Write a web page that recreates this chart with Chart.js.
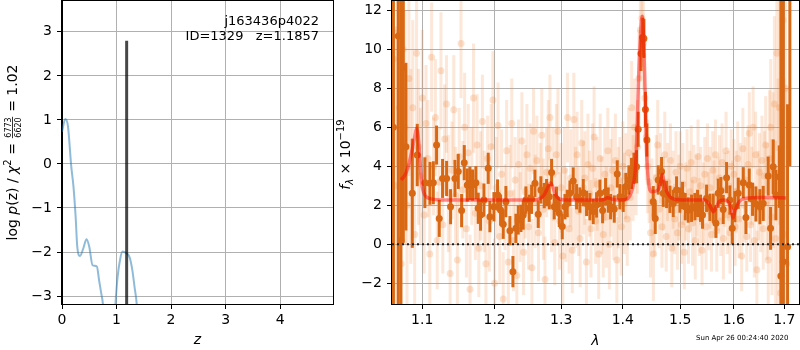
<!DOCTYPE html>
<html lang="en">
<head>
<meta charset="UTF-8">
<title>j163436p4022 - redshift fit</title>
<script src="https://cdn.jsdelivr.net/npm/chart.js@4"></script>
<style>
  body { margin: 0; background: #fff; }
  .panel { position: absolute; top: 0; height: 350px; }
  #left { left: 0; width: 334px; }
  #right { left: 334px; width: 466px; }
  #stamp { position: absolute; left: 696px; top: 334px; font: 7px "DejaVu Sans"; color: #000; white-space: pre; }
</style>
</head>
<body>
<div class="panel" id="left"><canvas id="pzChart"></canvas></div>
<div class="panel" id="right"><canvas id="specChart"></canvas></div>
<div id="stamp">Sun Apr 26 00:24:40 2020</div>
<script>
// ---- left panel: log p(z) ----
const zGrid = [0.0, 0.06, 0.11, 0.17, 0.21, 0.25, 0.28, 0.33, 0.39, 0.45, 0.50, 0.56, 0.64, 0.68, 0.72, 0.75, 0.80, 0.93,
               0.98, 1.02, 1.07, 1.11, 1.18, 1.24, 1.29, 1.33, 1.37, 1.42];
const logPz = [0.73, 1.02, 0.85, -0.06, -0.51, -1.20, -1.88, -2.09, -1.92, -1.71, -1.88, -2.30, -2.33, -2.64, -2.94, -3.18, -4.2, -4.2,
               -3.18, -2.56, -2.14, -1.99, -2.03, -2.12, -2.41, -2.79, -3.18, -4.2];
const zBest = 1.1857;
const zBestTop = 2.8;
const zTicks = [0, 1, 2, 3, 4];
const pzTicks = [-3, -2, -1, 0, 1, 2, 3];
const zMin = 0, zMax = 4.97, pzMin = -3.18, pzMax = 3.70;

// ---- right panel: spectrum ----
const lamTicks = [1.1, 1.2, 1.3, 1.4, 1.5, 1.6, 1.7];
const fluxTicks = [-2, 0, 2, 4, 6, 8, 10, 12];
const lamMin = 1.0607, lamMax = 1.7304, fluxMin = -3.06, fluxMax = 12.48;

// binned points (dark)
const lamBin = [
  1.0625, 1.0687, 1.0721, 1.0752, 1.0786, 1.0869, 1.0934, 1.1035, 1.1102, 1.1147,
  1.1191, 1.1227, 1.1272, 1.1327, 1.1381, 1.1441, 1.1487, 1.1533, 1.1570, 1.1612,
  1.1649, 1.1686, 1.1733, 1.1766, 1.1799, 1.1847, 1.1908, 1.1932, 1.1990, 1.2043,
  1.2086, 1.2125, 1.2164, 1.2223, 1.2267, 1.2311, 1.2346, 1.2386, 1.2420, 1.2460,
  1.2510, 1.2546, 1.2596, 1.2646, 1.2687, 1.2738, 1.2774, 1.2815, 1.2851, 1.2892,
  1.2928, 1.2970, 1.3017, 1.3059, 1.3095, 1.3137, 1.3190, 1.3243, 1.3296, 1.3350,
  1.3403, 1.3457, 1.3511, 1.3565, 1.3620, 1.3664, 1.3713, 1.3757, 1.3796, 1.3857,
  1.3907, 1.3951, 1.4007, 1.4052, 1.4103, 1.4148, 1.4188, 1.4234, 1.4262, 1.4310,
  1.4340, 1.4360, 1.4386, 1.4412, 1.4522, 1.4557, 1.4609, 1.4668, 1.4698, 1.4757,
  1.4816, 1.4875, 1.4935, 1.4995, 1.5043, 1.5092, 1.5146, 1.5207, 1.5268, 1.5317,
  1.5372, 1.5409, 1.5484, 1.5546, 1.5608, 1.5659, 1.5702, 1.5753, 1.5797, 1.5861,
  1.5924, 1.5969, 1.6020, 1.6085, 1.6182, 1.6234, 1.6299, 1.6364, 1.6430, 1.6509,
  1.6575, 1.6675, 1.6722, 1.6776, 1.6830, 1.6898, 1.6931, 1.6979, 1.7068, 1.7115];
const fluxBin = [
  6.0, 10.68, 0.19, 9.08, 5.01, 2.62, 4.58, 3.16, 3.13, 3.16,
  5.09, 1.33, 3.38, 3.38, 1.93, 3.38, 3.74, 1.73, 4.19, 3.04,
  3.13, 3.04, 3.16, 1.85, 1.50, 2.27, 3.90, 1.42, 1.93, 2.53,
  1.76, 1.03, 2.19, 0.70, -1.40, 0.82, 1.25, 1.33, 1.50, 2.27,
  1.85, 2.31, 3.13, 1.54, 2.79, 2.50, 2.65, 2.44, 3.68, 1.93,
  2.31, 1.59, 0.91, 1.93, 2.10, 2.62, 3.25, 2.44, 2.27, 2.65,
  2.10, 1.93, 1.68, 2.02, 2.62, 1.73, 2.70, 2.27, 1.93, 1.81,
  3.61, 2.44, 2.36, 2.96, 3.30, 3.64, 3.90, 3.98, 5.90, 9.79,
  10.62, 10.56, 6.92, 5.35, 2.19, 1.33, 3.30, 3.73, 2.62, 2.56,
  2.31, 2.10, 2.79, 2.27, 2.50, 1.93, 1.76, 1.85, 1.93, 2.10,
  1.85, 1.50, 2.36, 1.90, 1.85, 1.08, 2.62, 2.75, 1.79, 3.42,
  2.27, 0.82, 1.93, 2.62, 3.16, 1.38, 3.04, 2.31, 2.07, 1.93,
  2.10, 3.50, 0.82, 3.98, 2.53, 3.47, -1.62, -0.89, -0.12, 14.0];
const errBin = [
  20, 15, 15, 9, 4.3, 2.8, 1.6, 1.3, 1.1, 1.1,
  1.0, 0.95, 1.0, 0.9, 0.9, 0.95, 0.9, 0.85, 0.9, 0.85,
  0.85, 0.8, 0.85, 0.8, 0.8, 0.85, 0.8, 0.8, 0.75, 0.8,
  0.8, 0.75, 0.8, 0.75, 0.8, 0.75, 0.75, 0.7, 0.75, 0.7,
  0.7, 0.75, 0.7, 0.7, 0.7, 0.65, 0.7, 0.65, 0.7, 0.65,
  0.65, 0.7, 0.65, 0.65, 0.7, 0.65, 0.7, 0.65, 0.65, 0.7,
  0.65, 0.7, 0.65, 0.65, 0.7, 0.65, 0.7, 0.65, 0.65, 0.7,
  0.7, 0.65, 0.7, 0.7, 0.75, 0.8, 0.8, 0.85, 0.9, 0.9,
  1.0, 1.0, 0.9, 0.85, 0.8, 0.8, 0.75, 0.75, 0.7, 0.7,
  0.7, 0.7, 0.7, 0.65, 0.7, 0.7, 0.65, 0.7, 0.7, 0.7,
  0.7, 0.7, 0.7, 0.7, 0.75, 0.75, 0.75, 0.7, 0.75, 0.8,
  0.75, 0.8, 0.8, 0.8, 0.8, 0.85, 0.85, 0.85, 0.9, 0.9,
  0.9, 1.0, 1.1, 1.4, 1.3, 1.6, 15, 15, 7.3, 10];

// unbinned pixels (faint)
const lamRaw = [
  1.0625, 1.0650, 1.0675, 1.0700, 1.0725, 1.0750, 1.0775, 1.0800, 1.0825, 1.0850,
  1.0875, 1.0900, 1.0925, 1.0950, 1.0975, 1.1000, 1.1025, 1.1050, 1.1075, 1.1100,
  1.1125, 1.1150, 1.1175, 1.1200, 1.1225, 1.1250, 1.1275, 1.1300, 1.1325, 1.1350,
  1.1375, 1.1400, 1.1425, 1.1450, 1.1475, 1.1500, 1.1525, 1.1550, 1.1575, 1.1600,
  1.1625, 1.1650, 1.1675, 1.1700, 1.1725, 1.1750, 1.1775, 1.1800, 1.1825, 1.1850,
  1.1875, 1.1900, 1.1925, 1.1950, 1.1975, 1.2000, 1.2025, 1.2050, 1.2075, 1.2100,
  1.2125, 1.2150, 1.2175, 1.2200, 1.2225, 1.2250, 1.2275, 1.2300, 1.2325, 1.2350,
  1.2375, 1.2400, 1.2425, 1.2450, 1.2475, 1.2500, 1.2525, 1.2550, 1.2575, 1.2600,
  1.2625, 1.2650, 1.2675, 1.2700, 1.2725, 1.2750, 1.2775, 1.2800, 1.2825, 1.2850,
  1.2875, 1.2900, 1.2925, 1.2950, 1.2975, 1.3000, 1.3025, 1.3050, 1.3075, 1.3100,
  1.3125, 1.3150, 1.3175, 1.3200, 1.3225, 1.3250, 1.3275, 1.3300, 1.3325, 1.3350,
  1.3375, 1.3400, 1.3425, 1.3450, 1.3475, 1.3500, 1.3525, 1.3550, 1.3575, 1.3600,
  1.3625, 1.3650, 1.3675, 1.3700, 1.3725, 1.3750, 1.3775, 1.3800, 1.3825, 1.3850,
  1.3875, 1.3900, 1.3925, 1.3950, 1.3975, 1.4000, 1.4025, 1.4050, 1.4075, 1.4100,
  1.4125, 1.4150, 1.4175, 1.4200, 1.4225, 1.4250, 1.4275, 1.4300, 1.4325, 1.4350,
  1.4375, 1.4400, 1.4425, 1.4450, 1.4475, 1.4500, 1.4525, 1.4550, 1.4575, 1.4600,
  1.4625, 1.4650, 1.4675, 1.4700, 1.4725, 1.4750, 1.4775, 1.4800, 1.4825, 1.4850,
  1.4875, 1.4900, 1.4925, 1.4950, 1.4975, 1.5000, 1.5025, 1.5050, 1.5075, 1.5100,
  1.5125, 1.5150, 1.5175, 1.5200, 1.5225, 1.5250, 1.5275, 1.5300, 1.5325, 1.5350,
  1.5375, 1.5400, 1.5425, 1.5450, 1.5475, 1.5500, 1.5525, 1.5550, 1.5575, 1.5600,
  1.5625, 1.5650, 1.5675, 1.5700, 1.5725, 1.5750, 1.5775, 1.5800, 1.5825, 1.5850,
  1.5875, 1.5900, 1.5925, 1.5950, 1.5975, 1.6000, 1.6025, 1.6050, 1.6075, 1.6100,
  1.6125, 1.6150, 1.6175, 1.6200, 1.6225, 1.6250, 1.6275, 1.6300, 1.6325, 1.6350,
  1.6375, 1.6400, 1.6425, 1.6450, 1.6475, 1.6500, 1.6525, 1.6550, 1.6575, 1.6600,
  1.6625, 1.6650, 1.6675, 1.6700, 1.6725, 1.6750, 1.6775, 1.6800, 1.6825, 1.6850,
  1.6875, 1.6900, 1.6925, 1.6950, 1.6975, 1.7000, 1.7025, 1.7050];
const fluxRaw = [
  9.5, 3.0, 11.0, 7.0, -1.0, 10.0, 6.0, 2.0, 8.5, 4.0,
  7.0, 0.5, 9.8, 5.0, 3.5, 7.5, 1.5, 6.2, 4.4, -0.5,
  9.6, 4.0, 6.5, 0.2, 3.2, 8.9, 1.0, 5.4, 7.2, 2.6,
  -1.5, 3.8, 6.9, 2.5, -0.8, 4.5, 10.3, 2.8, 6.0, 0.8,
  4.7, -2.3, 3.5, 7.5, 1.6, 5.1, -0.2, 3.0, 6.3, 2.2,
  -1.0, 4.4, 1.2, 5.0, 7.4, -2.0, 2.9, 6.1, 0.4, 3.6,
  -2.8, 1.9, 4.8, -0.9, 2.6, 6.2, 0.2, 3.3, -1.6, 4.1,
  1.4, 5.3, -0.4, 2.7, 4.6, 0.9, 3.9, -1.2, 5.8, 2.2,
  4.3, 0.6, 3.0, 5.6, 1.8, -1.8, 3.7, 4.9, 6.5, 2.0,
  3.6, 0.1, 4.6, 5.8, 1.2, 2.9, -0.6, 3.8, 1.5, 6.5,
  0.8, 3.4, -0.3, 6.4, 2.4, 4.6, 1.7, 0.3, 5.2, 2.9,
  3.4, -0.9, 4.1, 2.6, 0.8, 3.9, 5.5, 1.2, 3.1, -0.5,
  4.4, 2.0, 0.5, 3.6, 1.4, 4.8, 0.0, 2.9, 3.8, 1.6,
  4.3, -0.8, 2.4, 3.3, 0.9, 4.0, 2.1, 3.5, 1.3, 4.7,
  2.4, 7.0, 3.4, 6.0, 3.8, 5.0, 8.5, 11.0, 11.6, 10.3,
  7.5, 5.5, 4.0, 3.2, 0.6, 2.2, -0.5, 1.5, 3.4, 5.1,
  1.8, 3.9, 0.9, 2.6, 4.6, 0.4, 3.2, 2.0, 4.3, -0.2,
  2.8, 1.3, 3.7, 0.6, 2.4, 4.0, 1.0, 3.1, -0.4, 2.2,
  3.9, 0.8, 2.7, 4.2, 1.1, 3.3, 0.2, 2.5, 4.5, 1.4,
  3.0, -0.3, 2.1, 3.6, 0.9, 4.4, 1.7, 2.9, 0.5, 3.8,
  2.3, 4.6, 0.7, 2.6, 3.4, 1.2, 4.2, 0.3, 2.8, 4.8,
  1.5, 3.0, 0.6, 4.0, 2.1, 3.6, 0.9, 2.7, 4.4, 1.3,
  3.2, -0.6, 4.9, 2.0, 3.3, 0.4, 4.1, 5.7, 1.0, 3.0,
  6.0, 0.2, 4.6, -1.3, 2.5, 3.7, 1.8, 4.3, 0.8, 3.5,
  5.1, 2.2, -0.8, 4.4, 6.0, 1.4, 3.8, 7.2, 0.3, 9.8,
  2.5, 7.0, -2.5, 5.0, 11.5, 0.5, 8.0, -1.0];
const errRaw = [
  8, 8, 7, 7, 7, 6, 6, 6, 5, 5,
  4.5, 4.5, 4, 4, 3.5, 3.5, 3, 3, 3, 3,
  2.8, 2.5, 3, 2.5, 2.8, 3, 2.5, 2.8, 2.5, 3,
  2.8, 2.5, 2.8, 2.5, 3, 2.5, 2.8, 2.5, 2.8, 2.5,
  2.5, 2.8, 2.5, 2.8, 2.4, 2.6, 2.5, 2.8, 2.4, 2.6,
  2.4, 2.2, 2.6, 2.2, 2.5, 2.3, 2.6, 2.2, 2.4, 2.3,
  2.4, 2.2, 2.6, 2.2, 2.5, 2.3, 2.6, 2.2, 2.4, 2.3,
  2.3, 2.5, 2.2, 2.4, 2.6, 2.2, 2.3, 2.5, 2.2, 2.4,
  2.3, 2.5, 2.2, 2.4, 2.6, 2.2, 2.3, 2.5, 2.2, 2.4,
  2.4, 2.2, 2.6, 2.2, 2.5, 2.3, 2.6, 2.2, 2.4, 2.3,
  2.3, 2.5, 2.2, 2.4, 2.6, 2.2, 2.3, 2.5, 2.2, 2.4,
  2.4, 2.2, 2.6, 2.2, 2.5, 2.3, 2.6, 2.2, 2.4, 2.3,
  2.3, 2.5, 2.2, 2.4, 2.6, 2.2, 2.3, 2.5, 2.2, 2.4,
  2.4, 2.2, 2.6, 2.2, 2.5, 2.3, 2.6, 2.2, 2.4, 2.3,
  2.2, 2.4, 2.2, 2.5, 2.3, 2.4, 2.5, 2.6, 2.5, 2.4,
  2.3, 2.2, 2.4, 2.1, 2.3, 2.2, 2.4, 2.1, 2.2, 2.3,
  2.0, 1.8, 2.1, 1.9, 2.2, 1.8, 2.0, 2.1, 1.9, 2.0,
  2.0, 1.8, 2.1, 1.9, 2.2, 1.8, 2.0, 2.1, 1.9, 2.0,
  2.0, 1.8, 2.1, 1.9, 2.2, 1.8, 2.0, 2.1, 1.9, 2.0,
  2.0, 1.8, 2.1, 1.9, 2.2, 1.8, 2.0, 2.1, 1.9, 2.0,
  2.0, 1.8, 2.1, 1.9, 2.2, 1.8, 2.0, 2.1, 1.9, 2.0,
  2.0, 1.8, 2.1, 1.9, 2.2, 1.8, 2.0, 2.1, 1.9, 2.0,
  2.0, 1.8, 2.1, 1.9, 2.2, 1.8, 2.0, 2.1, 1.9, 2.0,
  2.1, 1.9, 2.2, 2.0, 2.3, 2.0, 2.2, 2.3, 2.1, 2.3,
  2.5, 3, 3, 3.5, 3.5, 4, 4, 4.5, 5, 5,
  6, 6, 7, 7, 8, 8, 9, 9];

// best-fit model
const lamModel = [1.0724, 1.078, 1.083, 1.087, 1.0905, 1.0925, 1.0945, 1.0965, 1.099, 1.102,
  1.106, 1.113, 1.125, 1.20, 1.26, 1.268, 1.274, 1.279, 1.2835, 1.287,
  1.291, 1.296, 1.305, 1.36, 1.368, 1.375, 1.382, 1.39, 1.405, 1.412,
  1.417, 1.4216, 1.424, 1.4265, 1.4302, 1.433, 1.436, 1.4385, 1.4405, 1.444,
  1.449, 1.455, 1.462, 1.466, 1.4685, 1.471, 1.476, 1.483, 1.492, 1.52,
  1.545, 1.552, 1.558, 1.561, 1.566, 1.572, 1.58, 1.59, 1.595, 1.598,
  1.602, 1.608, 1.616, 1.63, 1.66, 1.7035];
const fluxModel = [3.30, 3.6, 4.2, 4.9, 5.6, 5.95, 5.6, 4.6, 3.2, 2.65,
  2.42, 2.32, 2.28, 2.27, 2.28, 2.36, 2.55, 2.9, 3.15, 2.95,
  2.55, 2.35, 2.28, 2.27, 2.3, 2.39, 2.32, 2.27, 2.3, 2.5,
  2.95, 3.98, 5.69, 8.26, 10.8, 11.7, 10.0, 7.4, 4.84, 3.21,
  2.7, 2.72, 2.85, 3.3, 3.6, 3.2, 2.7, 2.4, 2.3, 2.27,
  2.27, 2.1, 1.8, 1.67, 1.9, 2.2, 2.27, 2.15, 1.8, 1.35,
  1.7, 2.1, 2.3, 2.38, 2.4, 2.38];

Chart.defaults.font.family = 'DejaVu Sans';
Chart.defaults.font.size = 14;
Chart.defaults.color = '#000';

const pts = (xs, ys) => xs.map((x, i) => ({ x: x, y: ys[i] }));
const minus = v => String(v).replace('-', '\u2212');

// black box round the plot area
const frame = {
  id: 'frame',
  afterDraw(chart) {
    const a = chart.chartArea, c = chart.ctx;
    c.save();
    c.strokeStyle = '#000';
    c.lineWidth = 1;
    c.strokeRect(Math.round(a.left) - 0.5, Math.round(a.top) - 0.5, Math.round(a.right - a.left) + 1, Math.round(a.bottom - a.top) + 1);
    c.restore();
  }
};

// vertical error bars for datasets carrying an errs array
const errorBars = {
  id: 'errorBars',
  beforeDatasetDraw(chart, args) {
    const ds = chart.data.datasets[args.index];
    if (!ds.errs) return;
    const xs = chart.scales.x, ys = chart.scales.y, a = chart.chartArea, c = chart.ctx;
    c.save();
    c.beginPath();
    c.rect(a.left, a.top, a.right - a.left, a.bottom - a.top);
    c.clip();
    c.strokeStyle = ds.errColor;
    c.lineWidth = ds.errWidth;
    ds.data.forEach((p, i) => {
      const x = xs.getPixelForValue(p.x);
      c.beginPath();
      c.moveTo(x, ys.getPixelForValue(p.y - ds.errs[i]));
      c.lineTo(x, ys.getPixelForValue(p.y + ds.errs[i]));
      c.stroke();
    });
    c.restore();
  }
};

// rotated label made of pieces: {t, font, dy} or {frac:[num, den], font}
function drawRotated(ctx, cx, cy, parts) {
  ctx.save();
  ctx.translate(cx, cy);
  ctx.rotate(-Math.PI / 2);
  ctx.fillStyle = '#000';
  ctx.textBaseline = 'alphabetic';
  let total = 0;
  parts.forEach(p => {
    ctx.font = p.font;
    p.w = p.frac ? Math.max(ctx.measureText(p.frac[0]).width, ctx.measureText(p.frac[1]).width) + 2
                 : ctx.measureText(p.t).width;
    total += p.w;
  });
  let x = -total / 2;
  parts.forEach(p => {
    ctx.font = p.font;
    if (p.frac) {
      ctx.textAlign = 'center';
      ctx.fillText(p.frac[0], x + p.w / 2, -6);
      ctx.fillText(p.frac[1], x + p.w / 2, 3.5);
      ctx.fillRect(x + 0.5, -4.8, p.w - 1, 0.8);
    } else {
      ctx.textAlign = 'left';
      ctx.fillText(p.t, x, p.dy || 0);
    }
    x += p.w;
  });
  ctx.restore();
}

const leftTitles = {
  id: 'leftTitles',
  afterDraw(chart) {
    const c = chart.ctx, a = chart.chartArea;
    const n = '14px "DejaVu Sans"', it = 'italic 14px "DejaVu Sans"', sm = '10px "DejaVu Sans"';
    drawRotated(c, 17, (a.top + a.bottom) / 2, [
      { t: 'log ', font: n }, { t: 'p', font: it }, { t: '(z) / ', font: n },
      { t: '\u03c7', font: it }, { t: '2', font: sm, dy: -6 }, { t: ' = ', font: n },
      { frac: ['6773', '6620'], font: '8px "DejaVu Sans"' }, { t: ' = 1.02', font: n }
    ]);
    c.save();
    c.fillStyle = '#000';
    c.font = it;
    c.textAlign = 'center';
    c.fillText('z', (a.left + a.right) / 2, 343.5);
    c.font = '13px "DejaVu Sans"';
    c.textAlign = 'right';
    c.fillText('j163436p4022', 319, 24.5);
    c.fillText('ID=1329   z=1.1857', 319, 39.5);
    c.restore();
  }
};

const rightTitles = {
  id: 'rightTitles',
  afterDraw(chart) {
    const c = chart.ctx, a = chart.chartArea;
    const n = '14px "DejaVu Sans"', it = 'italic 14px "DejaVu Sans"';
    // canvas starts at x=334, so 350 on the page is 16 here
    drawRotated(c, 16, (a.top + a.bottom) / 2 + 2, [
      { t: 'f', font: it }, { t: '\u03bb', font: 'italic 10px "DejaVu Sans"', dy: 3 },
      { t: ' \u00d7 10', font: n }, { t: '\u221219', font: '10px "DejaVu Sans"', dy: -6 }
    ]);
    c.save();
    c.fillStyle = '#000';
    c.font = it;
    c.textAlign = 'center';
    c.fillText('\u03bb', (a.left + a.right) / 2, 345);
    c.restore();
  }
};

function axis(min, max, tickList, fmt, size, horizontal) {
  return {
    min: min, max: max,
    afterBuildTicks: s => { s.ticks = tickList.map(v => ({ value: v })); },
    afterFit: s => {
      if (horizontal) s.height = size; else s.width = size;
      s.paddingTop = 0; s.paddingBottom = 0; s.paddingLeft = 0; s.paddingRight = 0;
    },
    ticks: { callback: fmt, padding: horizontal ? 3 : 5, maxRotation: 0, autoSkip: false },
    grid: { color: '#b0b0b0', tickColor: '#000', tickLength: 5, lineWidth: 1 },
    border: { color: '#000' }
  };
}

new Chart(document.getElementById('pzChart'), {
  type: 'scatter',
  data: {
    datasets: [{
      data: pts([zBest, zBest], [pzMin - 1, zBestTop]),
      showLine: true, borderColor: 'rgba(0,0,0,0.72)', borderWidth: 3, pointRadius: 0
    }, {
      data: pts(zGrid, logPz),
      showLine: true, borderColor: 'rgba(31,119,180,0.5)', borderWidth: 2, pointRadius: 0,
      cubicInterpolationMode: 'monotone'
    }]
  },
  options: {
    responsive: true, maintainAspectRatio: false, animation: false,
    layout: { autoPadding: false, padding: { top: 1, right: 1, left: 0, bottom: 0 } },
    plugins: { legend: { display: false }, tooltip: { enabled: false } },
    scales: {
      x: Object.assign({ type: 'linear' }, axis(zMin, zMax, zTicks, v => String(v), 46, true)),
      y: Object.assign({ type: 'linear' }, axis(pzMin, pzMax, pzTicks, minus, 62, false))
    }
  },
  plugins: [frame, leftTitles]
});

new Chart(document.getElementById('specChart'), {
  type: 'scatter',
  data: {
    datasets: [{
      data: pts([lamMin, lamMax], [0, 0]),
      showLine: true, borderColor: '#222', borderWidth: 2, borderDash: [2, 3], pointRadius: 0, order: 0
    }, {
      data: pts(lamModel, fluxModel),
      showLine: true, borderColor: 'rgba(255,0,0,0.45)', borderWidth: 3.5, pointRadius: 0,
      cubicInterpolationMode: 'monotone', order: 1
    }, {
      data: pts(lamBin, fluxBin), errs: errBin, errColor: 'rgb(217,104,20)', errWidth: 3,
      pointRadius: 3.5, pointBackgroundColor: 'rgb(217,104,20)', pointBorderWidth: 0, order: 2
    }, {
      data: pts(lamRaw, fluxRaw), errs: errRaw, errColor: 'rgba(240,135,60,0.2)', errWidth: 3,
      pointRadius: 3.5, pointBackgroundColor: 'rgba(240,135,60,0.24)', pointBorderWidth: 0, order: 3
    }]
  },
  options: {
    responsive: true, maintainAspectRatio: false, animation: false,
    layout: { autoPadding: false, padding: { top: 1, right: 1, left: 0, bottom: 0 } },
    plugins: { legend: { display: false }, tooltip: { enabled: false } },
    scales: {
      x: Object.assign({ type: 'logarithmic' }, axis(lamMin, lamMax, lamTicks, v => v.toFixed(1), 46, true)),
      y: Object.assign({ type: 'linear' }, axis(fluxMin, fluxMax, fluxTicks, minus, 58, false))
    }
  },
  plugins: [frame, errorBars, rightTitles]
});
</script>
</body>
</html>
